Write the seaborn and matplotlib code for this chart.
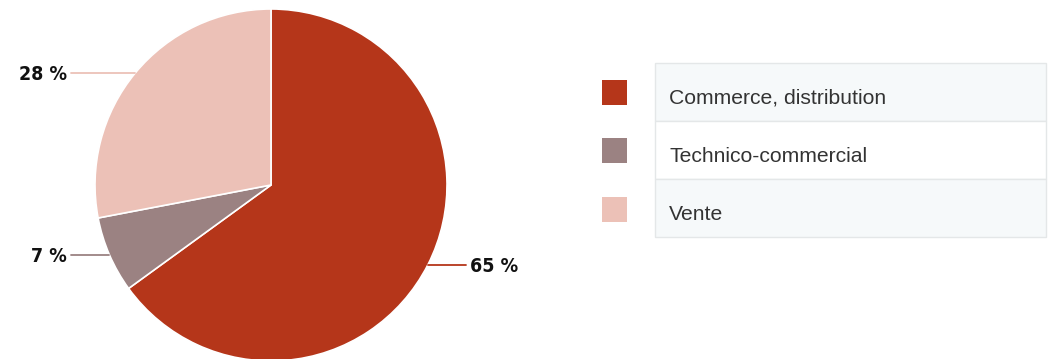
import numpy as np
import matplotlib
matplotlib.use("Agg")
import matplotlib.pyplot as plt
from matplotlib.patches import Rectangle
import seaborn as sns

categories = ["Commerce, distribution", "Technico-commercial", "Vente"]
values = [65, 7, 28]
colors = ["#b5361a", "#9b8282", "#ecc1b7"]

sns.set_theme(style="white")
plt.rcParams['font.family'] = ['Liberation Sans', 'DejaVu Sans']
palette = sns.color_palette(colors)

W, H = 1049, 359
fig = plt.figure(figsize=(W / 100, H / 100), dpi=100)
ax = fig.add_axes([0, 0, 1, 1])

cx, cy, R = 271, H - 185, 176
wedges, _ = ax.pie(values, colors=palette, startangle=90, counterclock=False,
                   center=(cx, cy), radius=R,
                   wedgeprops=dict(edgecolor="white", linewidth=1.2))
ax.set_xlim(0, W)
ax.set_ylim(0, H)
ax.set_aspect("equal")
ax.axis("off")

for w, v, c in zip(wedges, values, colors):
    mid = np.deg2rad((w.theta1 + w.theta2) / 2)
    ex, ey = cx + R * np.cos(mid), cy + R * np.sin(mid)
    left = np.cos(mid) < 0
    x_end = 71 if left else 466
    ax.plot([x_end, ex], [ey, ey], color=c, lw=1.3)
    ax.text(x_end - 4 if left else x_end + 4, ey, f"{v} %",
            ha="right" if left else "left", va="center_baseline",
            fontsize=14, fontweight="bold", fontstretch="condensed",
            color="#111111", family="DejaVu Sans")

# legend table
tx0, tx1 = 655, 1046
row_edges = [63, 121, 179, 237]
for i, (cat, c) in enumerate(zip(categories, colors)):
    top, bot = row_edges[i], row_edges[i + 1]
    face = "#f6f9fa" if i % 2 == 0 else "white"
    ax.add_patch(Rectangle((tx0, H - bot), tx1 - tx0, bot - top,
                           facecolor=face, edgecolor="#e4e7e8", lw=1))
    mid_y = H - (top + bot) / 2
    ax.add_patch(Rectangle((602, mid_y - 12.5 - 0.5 * i), 25, 25, facecolor=c, edgecolor="none"))
    ax.text(669, mid_y - 6, cat, ha="left", va="center", fontsize=15.2, color="#333333")

fig.savefig("out.png", dpi=100)
